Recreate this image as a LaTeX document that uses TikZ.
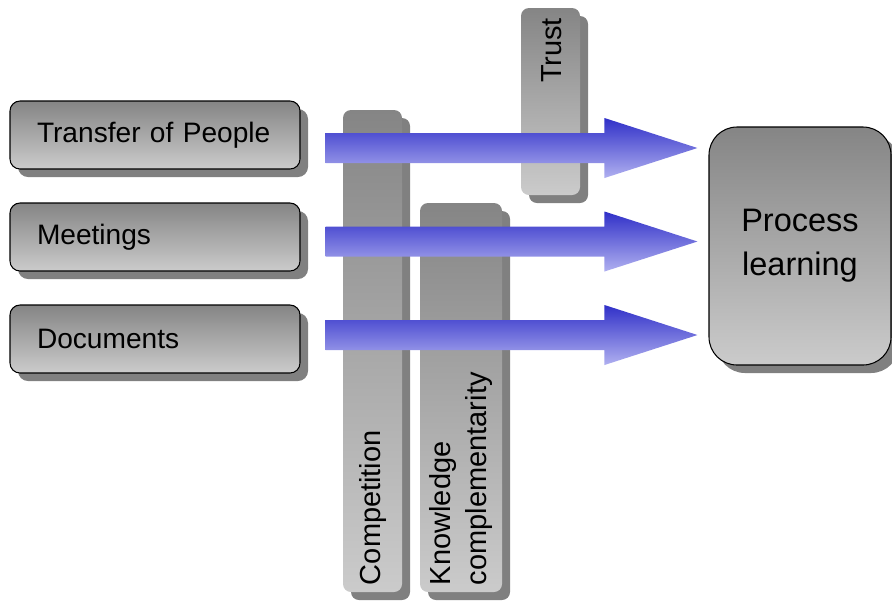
\documentclass[tikz,border=0pt]{standalone}
\usepackage{fontspec}
\setmainfont{Liberation Sans}
\usepackage{tikz}
\usetikzlibrary{calc,positioning,shadows}
\definecolor{boxtop}{HTML}{858585}
\definecolor{boxbot}{HTML}{CBCBCB}
\definecolor{shadowgray}{HTML}{808080}
\definecolor{flowtop}{HTML}{3030C8}
\definecolor{flowbot}{HTML}{B0B0F0}
\newlength\pxu
\setlength\pxu{0.02cm}
% block arrow from a start coordinate to a tip coordinate (same height)
\newcommand\flowarrow[2]{%
  \path[flowshade] let \p1=(#1), \p2=(#2) in
    (\x1,\y1+15\pxu) -- (\x2-93\pxu,\y1+15\pxu) -- (\x2-93\pxu,\y1+30\pxu)
    -- (\x2,\y1) -- (\x2-93\pxu,\y1-30\pxu) -- (\x2-93\pxu,\y1-15\pxu)
    -- (\x1,\y1-15\pxu) -- cycle;}

\begin{document}
\begin{tikzpicture}[x=0.02cm,y=-0.02cm,
  grayshadow/.style={drop shadow={shadow xshift=8\pxu,shadow yshift=-8\pxu,fill=shadowgray,opacity=1}},
  sourcebox/.style={draw=black,line width=0.6pt,rounded corners=10\pxu,top color=boxtop,bottom color=boxbot,
    minimum height=68\pxu,inner xsep=27\pxu,text width=236\pxu,align=left,
    font=\fontsize{16}{19}\selectfont,grayshadow},
  targetbox/.style={draw=black,line width=0.6pt,rounded corners=28\pxu,top color=boxtop,bottom color=boxbot,
    align=center,font=\fontsize{18.5}{25}\selectfont,grayshadow},
  factorbar/.style={rounded corners=8\pxu,top color=boxtop,bottom color=boxbot,inner sep=0pt,grayshadow},
  factortext/.style={rotate=90,inner sep=0pt,align=left,font=\fontsize{16.5}{20}\selectfont},
  flowshade/.style={top color=flowtop,bottom color=flowbot}]
  \useasboundingbox (0,0) rectangle (892,600);

  % moderating factors
  \node[factorbar,minimum width=59\pxu,minimum height=482\pxu] (comp) at (372.5,351) {};
  \node[factortext,anchor=west] (comptext) at ($(comp.south)+(0,-7)$) {Competition};
  \node[factorbar,minimum width=82\pxu,minimum height=389\pxu] (know) at (461,397.5) {};
  \node[factortext,anchor=west] (knowtext) at ($(know.south)+(0,-7)$) {Knowledge\\complementarity};
  \node[factorbar,minimum width=59\pxu,minimum height=187\pxu] (trust) at (550.5,101.5) {};
  \node[factortext,anchor=east] (trusttext) at ($(trust.north)+(1,10)$) {Trust};

  % mechanisms and outcome
  \node[sourcebox] (tp) at (155,135) {Transfer of People};
  \node[sourcebox] (mt) at (155,237) {Meetings};
  \node[sourcebox] (dc) at (155,339) {Documents};
  \node[targetbox,minimum width=182\pxu,minimum height=238\pxu] (pl) at (800,246) {Process\\learning};

  \coordinate (tp-out) at ($(tp.east)+(25,13)$);
  \coordinate (mt-out) at ($(mt.east)+(25,4.5)$);
  \coordinate (dc-out) at ($(dc.east)+(25,-4)$);
  \coordinate (tp-in) at ($(pl.west |- tp-out)+(-11,0)$);
  \coordinate (mt-in) at ($(pl.west |- mt-out)+(-11,0)$);
  \coordinate (dc-in) at ($(pl.west |- dc-out)+(-11,0)$);

  \flowarrow{tp-out}{tp-in}
  \flowarrow{mt-out}{mt-in}
  \flowarrow{dc-out}{dc-in}
\end{tikzpicture}
\end{document}
